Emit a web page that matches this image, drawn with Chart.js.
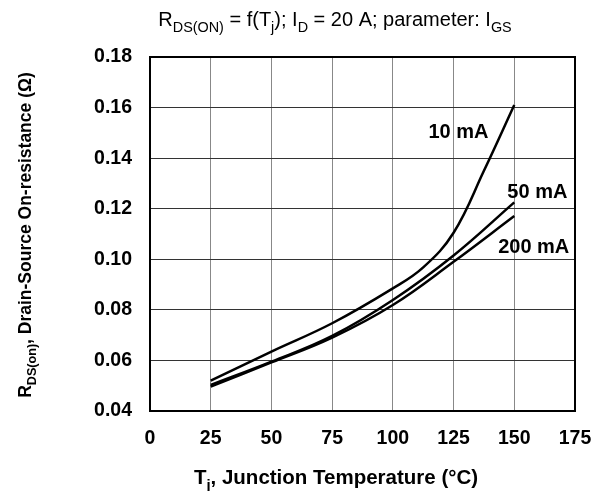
<!DOCTYPE html>
<html>
<head>
<meta charset="utf-8">
<script src="https://cdn.jsdelivr.net/npm/chart.js@4/dist/chart.umd.min.js"></script>
<style>
  body { margin: 0; background: #fff; }
  #wrap { width: 595px; height: 491px; position: relative; }
</style>
</head>
<body>
<div id="wrap"><canvas id="myChart"></canvas></div>
<script>
// temperatures (°C) and R_DS(on) values (ohm)
const temps10 = [25, 50, 75, 100, 112.5, 125, 137.5, 150];
const rds10 = [0.052, 0.0635, 0.0747, 0.0885, 0.0968, 0.1105, 0.135, 0.161];
const temps50 = [25, 50, 75, 100, 125, 150];
const rds50 = [0.0503, 0.0595, 0.0697, 0.0839, 0.1015, 0.1225];
const temps200 = [25, 50, 75, 100, 125, 150];
const rds200 = [0.0497, 0.0592, 0.0690, 0.0819, 0.0990, 0.1171];

const xTicks = [0, 25, 50, 75, 100, 125, 150, 175];
const yTicks = [0.04, 0.06, 0.08, 0.10, 0.12, 0.14, 0.16, 0.18];

const curveLabels = [
  { text: '10 mA', x: 127, y: 0.150 },
  { text: '50 mA', x: 159.5, y: 0.1266 },
  { text: '200 mA', x: 158, y: 0.1045 }
];

const FONT = '"Liberation Sans", Arial, sans-serif';

function pts(xs, ys) {
  return xs.map((x, i) => ({ x: x, y: ys[i] }));
}

// draws text made of normal and subscript pieces
function richText(ctx, parts, x, y, size, bold, align) {
  const setFont = p => {
    ctx.font = (bold ? 'bold ' : '') + (p.sub ? size * 0.72 : size) + 'px ' + FONT;
  };
  const w = parts.reduce((s, p) => { setFont(p); return s + ctx.measureText(p.t).width; }, 0);
  let cx = align === 'center' ? x - w / 2 : x;
  parts.forEach(p => {
    setFont(p);
    ctx.fillText(p.t, cx, p.sub ? y + size * 0.28 : y);
    cx += ctx.measureText(p.t).width;
  });
}

const textPlugin = {
  id: 'textPlugin',
  afterDraw(chart) {
    const ctx = chart.ctx;
    const xs = chart.scales.x, ys = chart.scales.y;
    ctx.save();
    ctx.fillStyle = '#000';
    ctx.textBaseline = 'alphabetic';
    ctx.textAlign = 'left';
    // title
    richText(ctx, [
      { t: 'R' }, { t: 'DS(ON)', sub: true }, { t: ' = f(T' }, { t: 'j', sub: true },
      { t: '); I' }, { t: 'D', sub: true }, { t: ' = 20 A; parameter: I' }, { t: 'GS', sub: true }
    ], 335, 26, 20, false, 'center');
    // x axis title
    richText(ctx, [
      { t: 'T' }, { t: 'j', sub: true }, { t: ', Junction Temperature (°C)' }
    ], 336, 484, 20.5, true, 'center');
    // y axis title
    ctx.translate(31, 235);
    ctx.rotate(-Math.PI / 2);
    richText(ctx, [
      { t: 'R' }, { t: 'DS(on)', sub: true }, { t: ', Drain-Source On-resistance (Ω)' }
    ], 0, 0, 17.5, true, 'center');
    ctx.restore();
    // curve labels
    ctx.save();
    ctx.fillStyle = '#000';
    ctx.font = 'bold 20px ' + FONT;
    ctx.textAlign = 'center';
    ctx.textBaseline = 'middle';
    curveLabels.forEach(l => {
      ctx.fillText(l.text, xs.getPixelForValue(l.x), ys.getPixelForValue(l.y));
    });
    ctx.restore();
  }
};

const lineStyle = {
  borderColor: '#000',
  borderWidth: 2.5,
  pointRadius: 0,
  fill: false,
  tension: 0.4
};

new Chart(document.getElementById('myChart').getContext('2d'), {
  type: 'line',
  data: {
    datasets: [
      Object.assign({ label: '10 mA', data: pts(temps10, rds10) }, lineStyle),
      Object.assign({ label: '50 mA', data: pts(temps50, rds50) }, lineStyle),
      Object.assign({ label: '200 mA', data: pts(temps200, rds200) }, lineStyle)
    ]
  },
  options: {
    responsive: true,
    maintainAspectRatio: false,
    animation: false,
    layout: { padding: { left: 0, right: 20, top: 57, bottom: 0 } },
    plugins: {
      legend: { display: false },
      tooltip: { enabled: false }
    },
    scales: {
      x: {
        type: 'linear',
        min: 0,
        max: 175,
        afterBuildTicks: s => { s.ticks = xTicks.map(v => ({ value: v })); },
        afterFit: s => { s.height = 80; s.paddingLeft = 0; s.paddingRight = 0; },
        ticks: {
          color: '#000',
          padding: 16,
          maxRotation: 0,
          font: { family: FONT, size: 19.5, weight: 'bold' }
        },
        grid: { color: '#888', lineWidth: 1, drawTicks: false },
        border: { color: '#000', width: 2 }
      },
      y: {
        min: 0.04,
        max: 0.18,
        afterBuildTicks: s => { s.ticks = yTicks.map(v => ({ value: v })); },
        afterFit: s => { s.width = 150; s.paddingTop = 0; s.paddingBottom = 0; },
        ticks: {
          color: '#000',
          padding: 18,
          callback: v => v.toFixed(2),
          font: { family: FONT, size: 19.5, weight: 'bold' }
        },
        grid: { color: '#333', lineWidth: 1, drawTicks: false },
        border: { color: '#000', width: 2 }
      }
    }
  },
  plugins: [textPlugin, {
    id: 'frame',
    afterDatasetsDraw(chart) {
      const a = chart.chartArea, ctx = chart.ctx;
      ctx.save();
      ctx.strokeStyle = '#000';
      ctx.lineWidth = 2;
      ctx.strokeRect(a.left, a.top, a.right - a.left, a.bottom - a.top);
      ctx.restore();
    }
  }]
});
</script>
</body>
</html>
